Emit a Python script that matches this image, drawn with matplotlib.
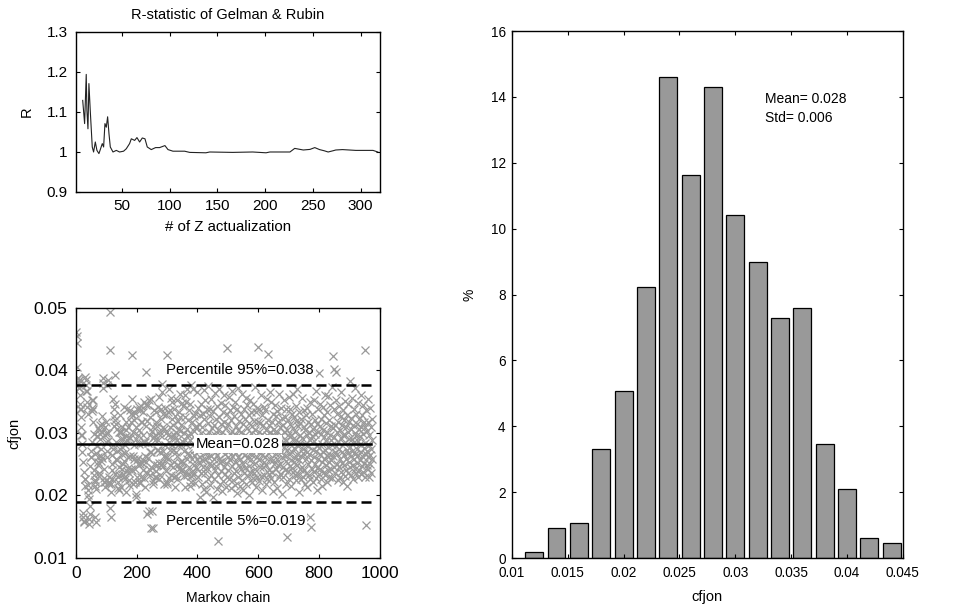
import matplotlib
matplotlib.use("Agg")
import matplotlib.pyplot as plt
import numpy as np
from matplotlib.ticker import FormatStrFormatter

plt.rcParams["font.family"] = ["Liberation Sans", "DejaVu Sans"]

# R-statistic of Gelman & Rubin
r_iter = [9, 11, 12.7, 13.4, 14.5, 15.5, 16.9, 19, 20.4, 22.2, 23.9, 26, 27.7, 29.5, 30.9,
          32.3, 33.7, 35.1, 36.5, 37.9, 40.7, 44.2, 47.6, 51.8, 54.6, 58.1, 59.9, 63.4,
          65.8, 68.6, 71.4, 74.2, 76.6, 80.8, 85.3, 89.5, 95.1, 98.3, 103.5, 115.7, 121,
          138, 142, 166, 187, 201, 205, 226, 231, 240, 247, 252, 257, 262, 266, 271, 274,
          281, 288, 295, 313, 318]
r_value = [1.129, 1.071, 1.194, 1.104, 1.058, 1.171, 1.104, 1.0125, 1.0, 1.025, 1.004,
           0.996, 1.008, 1.021, 1.0125, 1.071, 1.062, 1.088, 1.046, 1.0125, 1.0, 1.004,
           1.0, 1.002, 1.008, 1.021, 1.033, 1.029, 1.036, 1.025, 1.035, 1.033, 1.0125,
           1.006, 1.011, 1.011, 1.016, 1.006, 1.002, 1.002, 0.999, 0.998, 1.0, 0.999,
           1.0, 0.998, 1.0, 1.0, 1.009, 1.005, 1.0065, 1.011, 1.006, 1.003, 1.0, 1.003,
           1.005, 1.006, 1.005, 1.004, 1.004, 1.0]

# Markov chain of cfjon, in units of 1e-4
chain = [
    462, 455, 444, 405, 388, 388, 381, 379, 384, 372, 372, 360, 347, 338, 338, 325, 309, 296, 296, 282,
    270, 254, 165, 172, 158, 160, 238, 226, 226, 215, 389, 384, 376, 367, 367, 350, 341, 330, 216, 208,
    200, 195, 162, 155, 170, 183, 247, 262, 262, 271, 286, 335, 340, 352, 352, 338, 317, 299, 241, 232,
    225, 215, 221, 165, 158, 210, 268, 279, 295, 295, 308, 262, 254, 249, 231, 236, 305, 312, 298, 290,
    275, 263, 255, 260, 302, 315, 327, 388, 380, 372, 242, 228, 221, 221, 214, 296, 309, 318, 300, 285,
    271, 262, 377, 385, 300, 287, 230, 222, 222, 219, 494, 433, 180, 166, 206, 218, 226, 240, 251, 264,
    275, 281, 354, 311, 327, 339, 393, 347, 235, 321, 314, 258, 286, 271, 306, 257, 230, 221, 212, 208,
    233, 246, 301, 275, 329, 301, 213, 302, 290, 242, 277, 310, 266, 251, 290, 234, 229, 341, 255, 268,
    281, 226, 305, 317, 206, 295, 338, 288, 239, 262, 310, 244, 236, 294, 216, 224, 336, 263, 292, 318,
    331, 242, 355, 425, 240, 328, 219, 301, 263, 281, 320, 258, 243, 332, 221, 309, 197, 291, 203, 256,
    229, 338, 250, 296, 260, 222, 282, 341, 305, 220, 336, 251, 343, 230, 317, 252, 284, 318, 257, 296,
    241, 333, 228, 286, 349, 263, 214, 285, 345, 253, 311, 398, 171, 236, 319, 284, 345, 260, 352, 243,
    175, 326, 270, 296, 233, 270, 355, 148, 244, 303, 175, 219, 309, 148, 223, 336, 250, 294, 229, 288,
    297, 239, 318, 229, 334, 272, 311, 249, 288, 341, 273, 226, 358, 252, 301, 270, 233, 297, 249, 322,
    338, 252, 365, 378, 271, 310, 247, 331, 218, 306, 263, 281, 340, 261, 300, 239, 328, 218, 425, 262,
    221, 334, 296, 259, 371, 285, 228, 310, 273, 337, 248, 356, 295, 233, 322, 281, 349, 245, 272, 312,
    253, 296, 339, 230, 292, 214, 327, 269, 231, 302, 353, 263, 226, 288, 319, 249, 280, 333, 243, 307,
    326, 254, 303, 362, 281, 240, 312, 255, 348, 241, 286, 343, 252, 300, 271, 231, 291, 361, 213, 325,
    238, 350, 282, 370, 258, 306, 233, 320, 268, 297, 246, 336, 265, 215, 346, 288, 231, 376, 221, 299,
    238, 318, 259, 370, 281, 232, 303, 265, 327, 248, 332, 220, 309, 288, 246, 275, 366, 258, 310, 243,
    286, 229, 340, 271, 253, 315, 197, 328, 262, 300, 236, 347, 280, 218, 309, 256, 331, 245, 293, 368,
    274, 211, 322, 259, 353, 236, 297, 268, 205, 338, 283, 244, 316, 262, 375, 227, 301, 251, 290, 339,
    216, 327, 263, 295, 233, 354, 249, 308, 272, 198, 335, 281, 226, 312, 258, 364, 240, 297, 270, 322,
    247, 289, 210, 343, 264, 305, 128, 279, 232, 326, 258, 370, 219, 296, 253, 315, 239, 348, 271, 207,
    302, 255, 333, 223, 287, 361, 245, 318, 266, 234, 344, 277, 213, 308, 252, 330, 229, 436, 293, 261,
    314, 240, 358, 271, 226, 299, 337, 256, 212, 321, 284, 247, 367, 263, 303, 225, 290, 341, 236, 278,
    327, 253, 216, 296, 349, 268, 239, 311, 282, 204, 338, 261, 305, 230, 372, 276, 248, 319, 215, 293,
    258, 331, 242, 302, 270, 363, 225, 287, 315, 251, 208, 339, 279, 236, 322, 265, 297, 244, 356, 283,
    219, 308, 260, 345, 231, 292, 274, 329, 247, 201, 316, 268, 352, 237, 300, 259, 334, 222, 285, 311,
    264, 228, 347, 290, 251, 319, 236, 374, 273, 304, 242, 333, 214, 297, 262, 340, 230, 281, 317, 437,
    256, 301, 223, 338, 270, 245, 316, 289, 231, 360, 265, 298, 209, 328, 277, 246, 312, 254, 342, 233,
    291, 262, 337, 218, 305, 275, 248, 354, 226, 296, 268, 426, 321, 241, 280, 313, 235, 365, 259, 302,
    228, 349, 271, 296, 238, 318, 257, 207, 331, 283, 250, 306, 222, 344, 274, 295, 243, 327, 266, 300,
    212, 335, 259, 290, 248, 317, 276, 229, 363, 284, 251, 309, 234, 340, 269, 297, 203, 324, 261, 286,
    245, 312, 230, 352, 278, 301, 241, 326, 263, 219, 338, 287, 255, 305, 133, 272, 320, 239, 297, 358,
    266, 226, 314, 283, 247, 339, 257, 296, 215, 331, 270, 244, 308, 362, 238, 290, 253, 325, 276, 232,
    302, 260, 343, 224, 288, 319, 249, 371, 267, 235, 311, 279, 206, 334, 256, 296, 242, 316, 284, 227,
    323, 263, 292, 245, 356, 274, 230, 161, 268, 309, 241, 337, 282, 219, 305, 258, 329, 236, 297, 270,
    213, 340, 279, 251, 318, 233, 302, 266, 349, 165, 288, 226, 314, 257, 149, 295, 243, 331, 272, 221,
    306, 262, 353, 237, 287, 320, 250, 298, 228, 367, 271, 244, 315, 281, 209, 338, 258, 301, 234, 396,
    276, 311, 243, 347, 266, 226, 299, 322, 254, 283, 215, 341, 269, 305, 238, 328, 259, 293, 232, 360,
    273, 248, 316, 287, 221, 334, 264, 302, 240, 359, 278, 253, 320, 230, 296, 265, 345, 242, 289, 311,
    257, 374, 281, 228, 308, 263, 423, 338, 246, 402, 294, 270, 313, 236, 352, 397, 279, 301, 250, 331,
    267, 224, 318, 286, 245, 343, 275, 230, 304, 259, 327, 292, 238, 365, 270, 313, 252, 297, 221, 336,
    284, 248, 320, 265, 231, 351, 296, 258, 310, 241, 329, 273, 215, 302, 268, 346, 236, 291, 318, 254,
    277, 383, 245, 306, 263, 324, 232, 290, 356, 271, 249, 312, 227, 339, 285, 258, 300, 243, 372, 266,
    295, 236, 331, 274, 252, 315, 287, 229, 348, 264, 306, 241, 322, 283, 257, 295, 234, 361, 270, 310,
    247, 328, 263, 299, 238, 345, 276, 252, 317, 433, 284, 229, 309, 266, 153, 337, 271, 248, 303, 262,
    318, 243, 355, 280, 229, 296, 264, 340, 251, 309, 274, 236, 322, 289, 258,
]
chain_mean = 0.0282
p95 = 0.0376
p05 = 0.0189
mean_label = "Mean=0.028"
p95_label = "Percentile 95%=0.038"
p05_label = "Percentile 5%=0.019"

# histogram of cfjon
bin_centers = [0.012, 0.014, 0.016, 0.018, 0.020, 0.022, 0.024, 0.026, 0.028, 0.030,
               0.032, 0.034, 0.036, 0.038, 0.040, 0.042, 0.044]
bin_pct = [0.17, 0.90, 1.06, 3.30, 5.08, 8.22, 14.6, 11.63, 14.3, 10.43, 8.98, 7.29,
           7.59, 3.45, 2.09, 0.60, 0.46]

GRAY = "#999999"


def matlab_ticks(ax, size, xpad, ypad):
    ax.tick_params(direction="in", top=True, right=True, length=3, width=0.8,
                   labelsize=size)
    ax.tick_params(axis="x", pad=xpad)
    ax.tick_params(axis="y", pad=ypad)
    for s in ax.spines.values():
        s.set_linewidth(1.0)


fig = plt.figure(figsize=(9.55, 6.07), dpi=100)

# top-left: R statistic
ax1 = fig.add_axes([0.0796, 0.6837, 0.318, 0.2636])
ax1.plot(r_iter, r_value, color="#222222", lw=0.8)
ax1.set_xlim(2, 320)
ax1.set_ylim(0.9, 1.3)
ax1.set_xticks([50, 100, 150, 200, 250, 300])
ax1.set_yticks([0.9, 1.0, 1.1, 1.2, 1.3])
ax1.yaxis.set_major_formatter(FormatStrFormatter("%g"))
ax1.set_title("R-statistic of Gelman & Rubin", fontsize=10.5, pad=9)
ax1.set_xlabel("# of Z actualization", fontsize=10.8, labelpad=5)
ax1.set_ylabel("R", fontsize=10.5, labelpad=9)
matlab_ticks(ax1, 11, 5, 6)

# bottom-left: Markov chain
ax2 = fig.add_axes([0.0796, 0.0807, 0.318, 0.412])
vals = np.array(chain) / 1e4
idx = np.arange(1, len(vals) + 1)
ax2.plot(idx, vals, linestyle="none", marker="x", markersize=5.5, mew=0.9, color=GRAY)
xe = len(vals) - 5
ax2.plot([0, xe], [p95, p95], "k--", lw=1.8, dashes=(4, 2))
ax2.plot([0, xe], [p05, p05], "k--", lw=1.8, dashes=(4, 2))
ax2.plot([0, xe], [chain_mean, chain_mean], "k-", lw=1.8)
box = dict(facecolor="white", edgecolor="none", pad=1.5)
ax2.text(540, 0.0401, p95_label, ha="center", va="center", fontsize=10.8, bbox=box)
ax2.text(533, chain_mean, mean_label, ha="center", va="center", fontsize=10.8, bbox=box)
ax2.text(525, 0.0160, p05_label, ha="center", va="center", fontsize=10.8, bbox=box)
ax2.set_xlim(0, 1000)
ax2.set_ylim(0.01, 0.05)
ax2.set_xticks([0, 200, 400, 600, 800, 1000])
ax2.set_yticks([0.01, 0.02, 0.03, 0.04, 0.05])
ax2.yaxis.set_major_formatter(FormatStrFormatter("%g"))
ax2.set_xlabel("Markov chain", fontsize=10.2, labelpad=7)
ax2.set_ylabel("cfjon", fontsize=10.5, labelpad=9)
matlab_ticks(ax2, 12.5, 6, 6)

# right: histogram
ax3 = fig.add_axes([0.536, 0.0807, 0.4094, 0.868])
ax3.bar(bin_centers, bin_pct, width=0.0016, color=GRAY, edgecolor="black", linewidth=0.9)
ax3.set_xlim(0.01, 0.045)
ax3.set_ylim(0, 16)
ax3.set_xticks([0.01, 0.015, 0.02, 0.025, 0.03, 0.035, 0.04, 0.045])
ax3.set_yticks(range(0, 17, 2))
ax3.xaxis.set_major_formatter(FormatStrFormatter("%g"))
ax3.set_xlabel("cfjon", fontsize=10.5, labelpad=7)
ax3.set_ylabel("%", fontsize=10, labelpad=10)
ax3.text(0.03265, 13.65, "Mean= 0.028\nStd= 0.006", fontsize=10, va="center",
         linespacing=1.45)
matlab_ticks(ax3, 9.8, 6, 4.5)

fig.savefig("out.png", dpi=100)
